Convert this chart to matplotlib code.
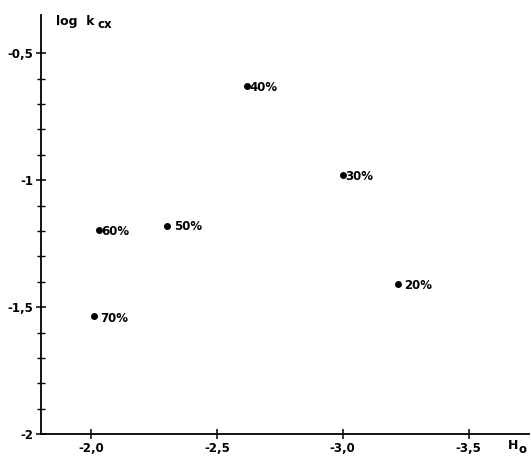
import matplotlib
matplotlib.use("Agg")
import matplotlib.pyplot as plt
from matplotlib.ticker import FixedLocator

plt.rcParams['font.family'] = ['DejaVu Sans']
plt.rcParams['mathtext.default'] = 'regular'

# data
labels = ["20%", "30%", "40%", "50%", "60%", "70%"]
h0 = [-3.22, -3.00, -2.62, -2.30, -2.03, -2.01]
log_kcx = [-1.41, -0.978, -0.629, -1.181, -1.198, -1.534]
x_ticks = [-2.0, -2.5, -3.0, -3.5]
x_ticklabels = ["-2,0", "-2,5", "-3,0", "-3,5"]
y_ticks = [-0.5, -1.0, -1.5, -2.0]
y_ticklabels = ["-0,5", "-1", "-1,5", "-2"]
y_minor_ticks = [k / 10 for k in range(-19, -5) if k % 5 != 0]

# label offsets in points (style)
offsets = [(4, -1), (2, -1), (1.5, -1), (5, 0), (1.5, -1), (5, -2)]

fig = plt.figure(figsize=(5.31, 4.58), dpi=100)
ax = fig.add_axes([0.077, 0.052, 0.919, 0.915])

ax.plot(h0, log_kcx, 'o', color='black', markersize=4, linestyle='none')
for lab, x, y, off in zip(labels, h0, log_kcx, offsets):
    ax.annotate(lab, (x, y), xytext=off, textcoords='offset points',
                ha='left', va='center', fontsize=8.5, fontweight='bold')

ax.set_xlim(-1.80, -3.74)
ax.set_ylim(-2.0, -0.35)

for s in ['top', 'right']:
    ax.spines[s].set_visible(False)
for s in ['left', 'bottom']:
    ax.spines[s].set_linewidth(1.3)

ax.xaxis.set_major_locator(FixedLocator(x_ticks))
ax.set_xticklabels(x_ticklabels)
ax.yaxis.set_major_locator(FixedLocator(y_ticks))
ax.set_yticklabels(y_ticklabels)
ax.yaxis.set_minor_locator(FixedLocator(y_minor_ticks))

ax.tick_params(axis='both', which='major', direction='inout', length=7, width=1.1,
               labelsize=8.5, pad=2)
ax.tick_params(axis='y', which='minor', direction='inout', length=6, width=1.0)
for t in ax.get_xticklabels() + ax.get_yticklabels():
    t.set_fontweight('bold')

fig.text(0.105, 0.946, "log  k", fontsize=9, fontweight='bold', ha='left', va='baseline')
fig.text(0.183, 0.938, "cx", fontsize=8.5, fontweight='bold', ha='left', va='baseline')
fig.text(0.957, 0.020, "H", fontsize=9, fontweight='bold', ha='left', va='baseline')
fig.text(0.977, 0.012, "o", fontsize=8.5, fontweight='bold', ha='left', va='baseline')

fig.savefig("out.png", dpi=100)
